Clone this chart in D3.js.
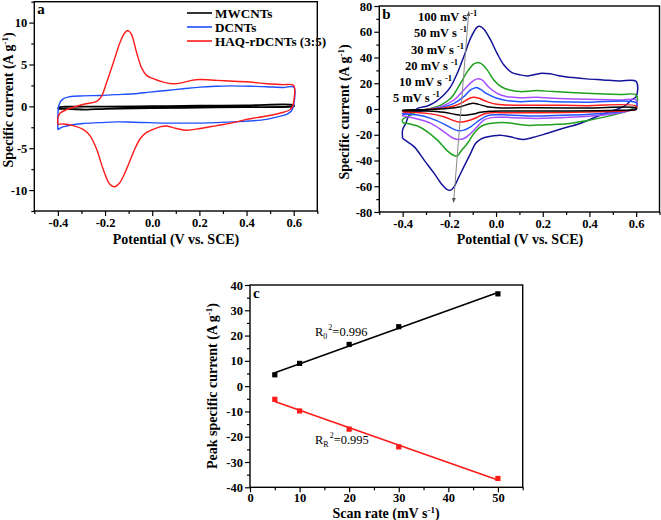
<!DOCTYPE html>
<html><head><meta charset="utf-8">
<script src="https://cdn.jsdelivr.net/npm/d3@7"></script>
<style>body{margin:0;background:#fff}svg{display:block}text{font-family:"Liberation Serif","Times New Roman",serif}</style>
</head><body>
<svg id="c" width="661" height="520"></svg>
<script>
// ---------- Panel a data (potential V, current A/g) ----------
const aMWCNTs = [[-0.4,-0.3],[-0.395,-0.1],[-0.37,-0.05],[-0.2,-0.03],[0,0.02],[0.2,0.07],[0.4,0.11],[0.6,0.15],[0.6,0.0],[0.58,-0.05],[0.4,-0.1],[0.2,-0.15],[0,-0.2],[-0.2,-0.3],[-0.28,-0.38],[-0.35,-0.32],[-0.4,-0.3]];
const aDCNTs = [[-0.4,-2.8],[-0.4,-1.2],[-0.395,0.2],[-0.378,0.9],[-0.35,1.15],[-0.293,1.25],[-0.222,1.3],[-0.151,1.4],[-0.08,1.5],[-0.01,1.7],[0.061,1.9],[0.131,2.1],[0.202,2.3],[0.273,2.4],[0.343,2.45],[0.414,2.4],[0.485,2.35],[0.556,2.25],[0.6,2.3],[0.6,0.2],[0.59,-0.55],[0.57,-0.95],[0.54,-1.2],[0.485,-1.55],[0.414,-1.75],[0.343,-1.85],[0.273,-1.95],[0.202,-2.0],[0.131,-2.0],[0.061,-2.0],[-0.01,-1.95],[-0.08,-1.9],[-0.151,-1.85],[-0.222,-1.95],[-0.293,-2.05],[-0.335,-2.2],[-0.363,-2.35],[-0.385,-2.5],[-0.4,-2.8]];
const aHAQ = [[-0.4,-2.15],[-0.4,-1.4],[-0.39,-0.8],[-0.363,-0.4],[-0.29,0.25],[-0.236,0.6],[-0.215,1.2],[-0.194,2.8],[-0.165,5.2],[-0.137,7.6],[-0.116,8.8],[-0.102,9.05],[-0.088,8.6],[-0.066,6.4],[-0.045,4.6],[-0.024,3.7],[0.004,3.3],[0.047,2.9],[0.089,2.7],[0.124,2.8],[0.167,3.1],[0.202,3.2],[0.273,3.1],[0.343,3.0],[0.414,2.9],[0.485,2.7],[0.556,2.6],[0.6,2.5],[0.6,0.6],[0.595,0.0],[0.584,-0.4],[0.556,-0.7],[0.485,-1.15],[0.4,-1.55],[0.343,-1.95],[0.273,-2.3],[0.202,-2.65],[0.146,-2.85],[0.103,-2.65],[0.061,-2.35],[0.033,-2.45],[0.004,-2.75],[-0.024,-3.1],[-0.052,-3.9],[-0.08,-5.5],[-0.109,-7.5],[-0.137,-9.1],[-0.158,-9.6],[-0.18,-9.3],[-0.208,-7.5],[-0.236,-5.1],[-0.264,-3.5],[-0.293,-2.75],[-0.335,-2.3],[-0.378,-2.1],[-0.4,-2.15]];
const aNames = ["MWCNTs","DCNTs","HAQ-rDCNTs (3:5)"];

// ---------- Panel b data ----------
const b5 = [[-0.4,-1.3],[-0.4,-1],[-0.322,-0.5],[-0.209,0.3],[-0.152,1.8],[-0.116,3.9],[-0.098,4.4],[-0.074,3.6],[-0.038,1.8],[0.004,1],[0.174,1],[0.387,0.8],[0.6,0.8],[0.6,-0.3],[0.529,-1],[0.245,-1.6],[0.047,-1.6],[-0.024,-1.8],[-0.067,-2.6],[-0.095,-3.9],[-0.123,-4.7],[-0.145,-4.9],[-0.173,-4.2],[-0.223,-2.6],[-0.294,-1.6],[-0.4,-1.3]];
const b10 = [[-0.4,-2.3],[-0.4,-2],[-0.322,-0.8],[-0.237,0.5],[-0.18,2.3],[-0.138,5.7],[-0.109,8.8],[-0.095,9.1],[-0.074,8.3],[-0.038,5.7],[0.004,3.6],[0.104,2.9],[0.245,2.9],[0.387,2.6],[0.6,2.3],[0.6,0],[0.557,-1.3],[0.387,-2.3],[0.174,-2.9],[0.047,-2.9],[-0.024,-2.9],[-0.052,-3.9],[-0.081,-6.5],[-0.109,-8.6],[-0.138,-9.9],[-0.159,-10.1],[-0.18,-9.1],[-0.223,-6],[-0.294,-3.4],[-0.35,-2.6],[-0.4,-2.3]];
const b20 = [[-0.4,-3.9],[-0.4,-3.4],[-0.322,-1.3],[-0.251,0.5],[-0.18,4.4],[-0.138,9.6],[-0.109,14.8],[-0.088,16.6],[-0.067,15.3],[-0.038,11.7],[0.004,8.3],[0.047,6.5],[0.104,5.7],[0.174,6.2],[0.245,5.7],[0.387,5.2],[0.6,4.9],[0.6,0.5],[0.557,-1.6],[0.458,-3.4],[0.316,-4.7],[0.174,-5.5],[0.047,-4.7],[-0.024,-4.7],[-0.052,-6.5],[-0.081,-9.9],[-0.109,-13.8],[-0.138,-16.4],[-0.159,-16.9],[-0.18,-15.8],[-0.223,-11.7],[-0.279,-7.3],[-0.336,-4.7],[-0.4,-3.9]];
const b30 = [[-0.4,-5.5],[-0.4,-4.7],[-0.35,-2],[-0.294,-0.3],[-0.237,1.8],[-0.18,7],[-0.138,14.8],[-0.102,21.3],[-0.081,23.4],[-0.06,22.6],[-0.031,16.9],[0.004,12.2],[0.047,9.6],[0.104,8.8],[0.174,9.1],[0.245,8.3],[0.387,7.5],[0.529,7],[0.6,7],[0.6,1.3],[0.557,-2],[0.458,-4.7],[0.316,-6.5],[0.174,-7.3],[0.104,-7],[0.047,-6.5],[-0.01,-6.5],[-0.052,-8.6],[-0.081,-13.8],[-0.109,-19],[-0.138,-22.9],[-0.159,-23.6],[-0.18,-22.9],[-0.223,-17.7],[-0.279,-11.2],[-0.336,-7.8],[-0.379,-6],[-0.4,-5.5]];
const b50 = [[-0.4,-10.6],[-0.4,-8],[-0.379,-6],[-0.336,-2],[-0.279,0.5],[-0.237,3],[-0.194,8.3],[-0.152,20],[-0.123,29],[-0.095,35],[-0.081,36],[-0.067,35.6],[-0.038,30.4],[-0.01,22.6],[0.026,16.9],[0.068,14.3],[0.104,13.5],[0.174,14.3],[0.245,13.5],[0.387,12.2],[0.529,11.2],[0.6,10.9],[0.6,2.3],[0.572,-0.8],[0.529,-3.4],[0.458,-6.5],[0.387,-9.1],[0.316,-11.2],[0.245,-12],[0.174,-12.5],[0.132,-12.7],[0.089,-11.7],[0.047,-10.6],[0.004,-10.6],[-0.038,-11.7],[-0.067,-13.8],[-0.095,-19],[-0.123,-26.8],[-0.152,-33.2],[-0.166,-36.4],[-0.18,-36.1],[-0.209,-32.5],[-0.251,-24.2],[-0.294,-17.7],[-0.336,-13.2],[-0.379,-11.2],[-0.4,-10.6]];
const b100 = [[-0.4,-22.9],[-0.4,-16],[-0.386,-11],[-0.372,-4.7],[-0.336,0.5],[-0.294,2.3],[-0.258,5.7],[-0.223,11],[-0.194,17.4],[-0.166,27.8],[-0.138,40.8],[-0.109,55],[-0.081,63.6],[-0.07,64.2],[-0.052,62],[-0.024,53.8],[0.004,43.4],[0.033,34.3],[0.068,28.3],[0.104,26.5],[0.132,25.7],[0.167,26.8],[0.196,27.8],[0.231,27.3],[0.274,25.7],[0.33,24.4],[0.387,23.4],[0.458,22.6],[0.529,21.8],[0.6,21.3],[0.6,9.6],[0.579,7],[0.557,3.1],[0.529,0.5],[0.487,-2],[0.43,-6],[0.359,-11.2],[0.288,-15],[0.217,-19],[0.16,-22],[0.118,-23.6],[0.089,-22.9],[0.061,-21.6],[0.018,-20.3],[-0.017,-21],[-0.045,-22],[-0.067,-23.6],[-0.088,-26.8],[-0.109,-34.5],[-0.138,-45],[-0.159,-52.7],[-0.18,-60.5],[-0.194,-63],[-0.209,-62.6],[-0.23,-59],[-0.265,-50],[-0.308,-39.7],[-0.35,-29.4],[-0.379,-25.5],[-0.4,-22.9]];
const bRates = ["100","50","30","20","10","5"];

// ---------- Panel c data ----------
const cRate = [5, 10, 20, 30, 50];
const cOx = [4.5, 9, 16.5, 23.5, 36.5];
const cRed = [-5.2, -9.8, -17, -24, -36.5];

// ---------- Tick values ----------
const potTicks = [-0.4,-0.2,0.0,0.2,0.4,0.6];
const aYTicks = [-10,-5,0,5,10];
const bYTicks = [-80,-60,-40,-20,0,20,40,60,80];
const cXTicks = [0,10,20,30,40,50];
const cYTicks = [-40,-30,-20,-10,0,10,20,30,40];

const svg = d3.select("#c");

function panel(o){
  const x = d3.scaleLinear().domain(o.xd).range([o.l, o.r]);
  const y = d3.scaleLinear().domain(o.yd).range([o.b, o.t]);
  const g = svg.append("g");
  const clipId = "clip"+o.id;
  svg.append("clipPath").attr("id",clipId).append("rect").attr("x",o.l).attr("y",o.t).attr("width",o.r-o.l).attr("height",o.b-o.t);
  const plot = g.append("g").attr("clip-path",`url(#${clipId})`);
  const xa = d3.axisBottom(x).tickValues(o.xMinor).tickSize(3).tickFormat("");
  g.append("g").attr("transform",`translate(0,${o.b})`).call(xa).call(s=>{s.select(".domain").remove();s.selectAll("line").attr("stroke-width",1.2);});
  const ya = d3.axisLeft(y).tickValues(o.yMinor).tickSize(3).tickFormat("");
  g.append("g").attr("transform",`translate(${o.l},0)`).call(ya).call(s=>{s.select(".domain").remove();s.selectAll("line").attr("stroke-width",1.2);});
  const xA = d3.axisBottom(x).tickValues(o.xTicks).tickSize(5).tickPadding(o.xpad!=null?o.xpad:2).tickFormat(o.xf);
  g.append("g").attr("transform",`translate(0,${o.b})`).call(xA).call(s=>{
    s.select(".domain").remove(); s.selectAll("line").attr("stroke-width",1.2);
    s.selectAll("text").attr("font-size",12.5).attr("font-weight","bold").attr("font-family","Liberation Serif").attr("fill","#000");
  });
  const yA = d3.axisLeft(y).tickValues(o.yTicks).tickSize(5).tickPadding(2).tickFormat(o.yf);
  g.append("g").attr("transform",`translate(${o.l},0)`).call(yA).call(s=>{
    s.select(".domain").remove(); s.selectAll("line").attr("stroke-width",1.2);
    s.selectAll("text").attr("font-size",12.5).attr("font-weight","bold").attr("font-family","Liberation Serif").attr("fill","#000");
  });
  g.append("rect").attr("x",o.l).attr("y",o.t).attr("width",o.r-o.l).attr("height",o.b-o.t)
    .attr("fill","none").attr("stroke","#000").attr("stroke-width",1.4);
  g.append("text").attr("x",o.l+3).attr("y",o.t+12.5).text(o.letter).attr("font-size",15).attr("font-weight","bold");
  g.append("text").attr("x",o.xlx).attr("y",o.xly).attr("text-anchor","middle").attr("font-size",14).attr("font-weight","bold")
    .call(t=>{ o.xlabel.forEach(p=>{ t.append("tspan").text(p[0]).attr("font-size",p[1]?9:null).attr("dy",p[1]?-5:(p[2]?5:null)); }); });
  g.append("text").attr("transform",`translate(${o.ylx},${o.yly}) rotate(-90)`).attr("text-anchor","middle").attr("font-size",14).attr("font-weight","bold")
    .call(t=>{ o.ylabel.forEach(p=>{ t.append("tspan").text(p[0]).attr("font-size",p[1]?9:null).attr("dy",p[1]?-5:(p[2]?5:null)); }); });
  return {x,y,plot,g};
}

const fmt1 = d => d.toFixed(1);
const fmt0 = d => String(d);
const ylabSpec = [["Specific current (A g"],["-1",true],[")",false,true]];

// Panel a
const A = panel({id:"a",l:34.3,r:317.3,t:1.7,b:211,xd:[-0.5,0.7],yd:[-12.5,12.5],
  xTicks:potTicks,xMinor:[-0.5,-0.3,-0.1,0.1,0.3,0.5,0.7],yTicks:aYTicks,yMinor:[-12.5,-7.5,-2.5,2.5,7.5,12.5],
  xf:fmt1,yf:fmt0,letter:"a",xlx:176,xly:244,xlabel:[["Potential (V vs. SCE)"]],ylx:13,yly:100,ylabel:ylabSpec});
const lineA = d3.line().x(d=>A.x(d[0])).y(d=>A.y(d[1])).curve(d3.curveCatmullRom.alpha(0.5));
const aSeries = [aMWCNTs,aDCNTs,aHAQ];
const aColors = ["#000000","#1f4fff","#ff1a1a"];
A.plot.selectAll("path.cv").data(aSeries).join("path").attr("class","cv")
  .attr("d",lineA).attr("fill","none").attr("stroke",(d,i)=>aColors[i]).attr("stroke-width",(d,i)=>i===0?1.8:1.4);
const legY = [13,27,41];
aNames.forEach((n,i)=>{
  A.g.append("line").attr("x1",187).attr("x2",212).attr("y1",legY[i]).attr("y2",legY[i]).attr("stroke",aColors[i]).attr("stroke-width",1.6);
  A.g.append("text").attr("x",215).attr("y",legY[i]+4.5).text(n).attr("font-size",13.2).attr("font-weight","bold");
});

// Panel b
const B = panel({id:"b",l:379.3,r:659.5,t:6,b:212,xd:[-0.5,0.7],yd:[-80,80],
  xTicks:potTicks,xMinor:[-0.5,-0.3,-0.1,0.1,0.3,0.5,0.7],yTicks:bYTicks,yMinor:[-70,-50,-30,-10,10,30,50,70],
  xf:fmt1,yf:fmt0,letter:"b",xlx:520,xly:244,xlabel:[["Potential (V vs. SCE)"]],ylx:349,yly:112,ylabel:ylabSpec});
const lineB = d3.line().x(d=>B.x(d[0])).y(d=>B.y(d[1])).curve(d3.curveCatmullRom.alpha(0.5));
const bSeries = [b100,b50,b30,b20,b10,b5];
const bColors = ["#14149a","#1fa01f","#a64dff","#2255ff","#ff1a1a","#000000"];
B.plot.selectAll("path.cv").data(bSeries).join("path").attr("class","cv")
  .attr("d",lineB).attr("fill","none").attr("stroke",(d,i)=>bColors[i]).attr("stroke-width",1.5);
const defs = svg.append("defs");
defs.append("marker").attr("id","ah").attr("viewBox","0 0 10 10").attr("refX",9).attr("refY",5)
  .attr("markerWidth",5).attr("markerHeight",6).attr("orient","auto-start-reverse")
  .append("path").attr("d","M0,1 L10,5 L0,9 Z").attr("fill","#555");
const arrowPts = [[-0.182,-72.5],[-0.117,75.5]];
B.g.append("line").attr("x1",B.x(arrowPts[0][0])).attr("y1",B.y(arrowPts[0][1])).attr("x2",B.x(arrowPts[1][0])).attr("y2",B.y(arrowPts[1][1]))
  .attr("stroke","#888").attr("stroke-width",1).attr("marker-end","url(#ah)").attr("marker-start","url(#ah)");
const rateLblX = [418,414,411,405,399,393];
const rateLblY = [21,37,54,70,86,102];
bRates.forEach((r,i)=>{
  const t = B.g.append("text").attr("x",rateLblX[i]).attr("y",rateLblY[i]).attr("font-size",12.5).attr("font-weight","bold");
  t.append("tspan").text(r+" mV s ");
  t.append("tspan").text("-1").attr("font-size",8.5).attr("dy",-5);
});

// Panel c
const C = panel({id:"c",l:250,r:522.7,t:285,b:487.3,xd:[0,55],yd:[-40,40],xpad:1,
  xTicks:cXTicks,xMinor:[5,15,25,35,45,55],yTicks:cYTicks,yMinor:[-35,-25,-15,-5,5,15,25,35],
  xf:fmt0,yf:fmt0,letter:"c",xlx:386,xly:517.5,xlabel:[["Scan rate (mV s"],["-1",true],[")",false,true]],ylx:217,yly:386,ylabel:[["Peak specific current (A g"],["-1",true],[")",false,true]]});
function fit(xs,ys){
  const mx=d3.mean(xs), my=d3.mean(ys);
  const s=d3.sum(xs,(v,i)=>(v-mx)*(ys[i]-my))/d3.sum(xs,v=>(v-mx)*(v-mx));
  return v=>my+s*(v-mx);
}
[[cOx,"#000000"],[cRed,"#ff1a1a"]].forEach(([ys,col])=>{
  const f = fit(cRate,ys);
  const ext = d3.extent(cRate);
  C.plot.append("line").attr("x1",C.x(ext[0])).attr("y1",C.y(f(ext[0]))).attr("x2",C.x(ext[1])).attr("y2",C.y(f(ext[1])))
    .attr("stroke",col).attr("stroke-width",1.6);
  C.plot.selectAll(null).data(cRate.map((r,i)=>[r,ys[i]])).join("rect")
    .attr("x",d=>C.x(d[0])-2.6).attr("y",d=>C.y(d[1])-2.6).attr("width",5.2).attr("height",5.2).attr("fill",col);
});
function r2(x,y,sub,val){
  const t = C.g.append("text").attr("x",x).attr("y",y).attr("font-size",12.5);
  t.append("tspan").text("R");
  t.append("tspan").text(sub).attr("font-size",8).attr("dy",3);
  t.append("tspan").text("2").attr("font-size",8).attr("dy",-9).attr("dx",1);
  t.append("tspan").text("="+val).attr("dy",6);
}
r2(315,336,"0","0.996");
r2(315,444,"R","0.995");
</script>
</body></html>
